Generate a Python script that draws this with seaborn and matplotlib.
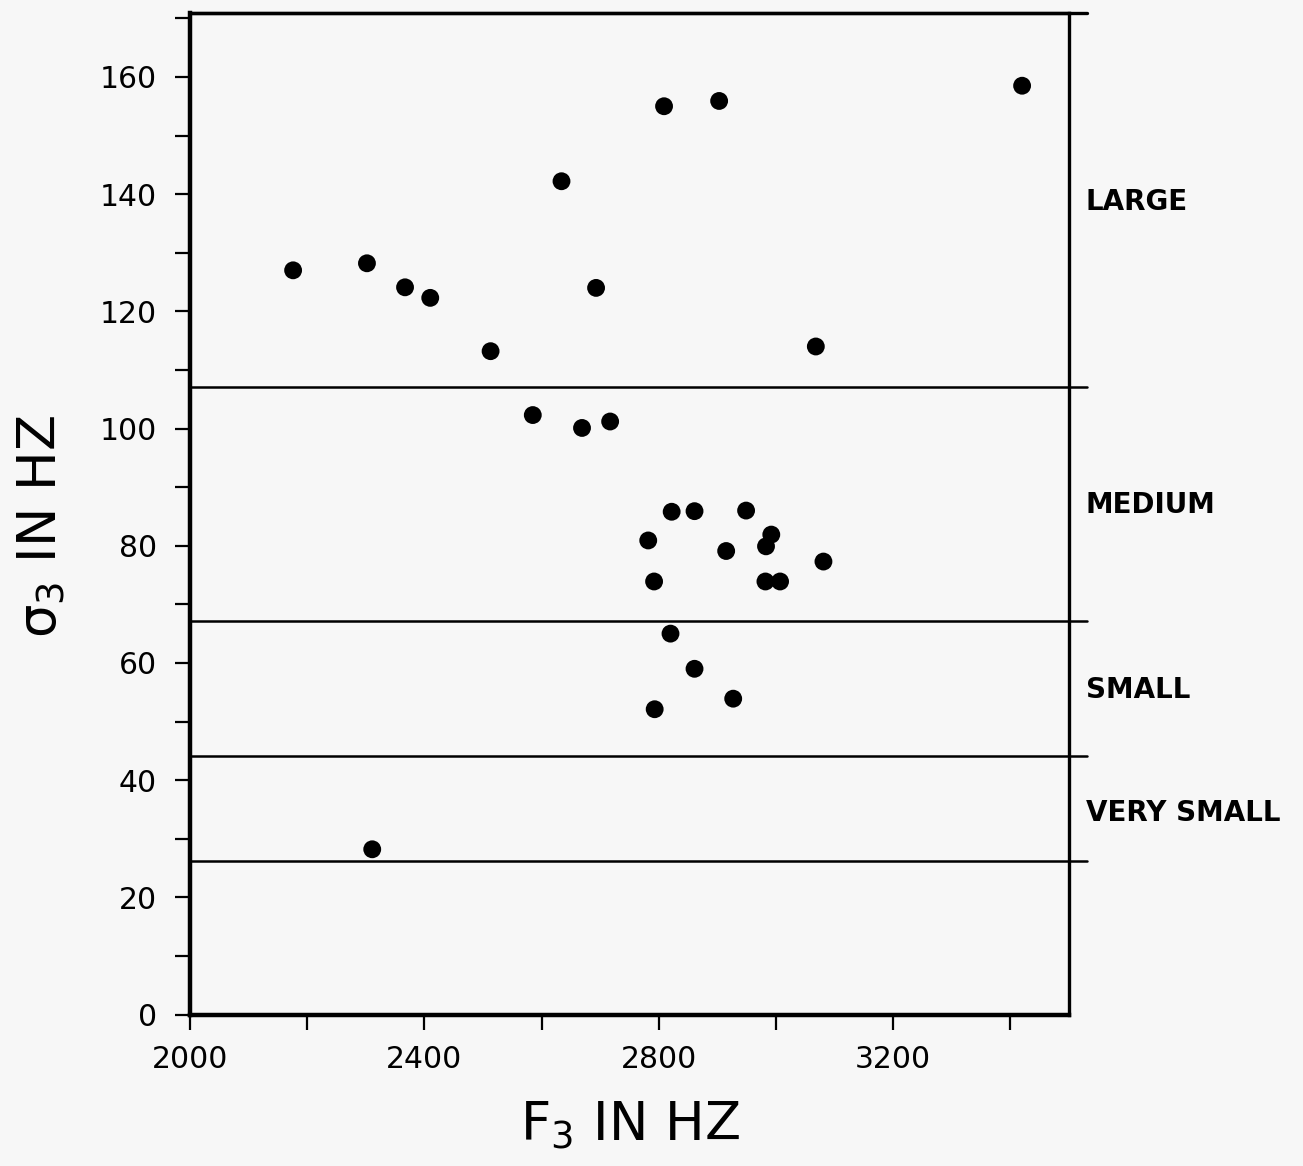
"""
F3 vs sigma3 scatter with bandwidth classes (scanned figure remake)
"""

import numpy as np
import pandas as pd
import matplotlib
matplotlib.use("Agg")
import matplotlib.pyplot as plt
import seaborn as sns

# points
f3_hz = [2176, 2302, 2367, 2410, 2513, 2585, 2634, 2669, 2693, 2717,
         2809, 2903, 3420, 3068, 2782, 2792, 2822, 2861, 2949, 2915,
         2983, 2992, 2982, 3007, 3081, 2820, 2861, 2927, 2793, 2311]
sigma3_hz = [127.0, 128.2, 124.1, 122.3, 113.2, 102.3, 142.2, 100.1, 124.0, 101.2,
             155.0, 155.9, 158.5, 114.0, 80.9, 73.9, 85.8, 85.9, 86.0, 79.1,
             79.9, 81.9, 73.9, 73.9, 77.3, 65.0, 59.0, 53.9, 52.1, 28.2]

# class boundaries and names
boundaries = [107.1, 67.2, 44.2, 26.2]
class_names = ['LARGE', 'MEDIUM', 'SMALL', 'VERY SMALL']
class_label_y = [138.7, 86.9, 55.4, 34.4]

x_major = [2000, 2400, 2800, 3200]
x_minor = [2200, 2600, 3000, 3400]
y_major = list(range(0, 161, 20))
y_minor = list(range(10, 171, 20))

df = pd.DataFrame({'f3': f3_hz, 'sigma3': sigma3_hz})

sns.set_style('ticks')
plt.rcParams['font.family'] = ['DejaVu Sans']
plt.rcParams['mathtext.fontset'] = 'dejavusans'
for key in ['text.color', 'axes.labelcolor', 'xtick.color', 'ytick.color',
            'xtick.labelcolor', 'ytick.labelcolor']:
    plt.rcParams[key] = 'black'

bg = '#f7f7f7'
fig = plt.figure(figsize=(13.03, 11.66), dpi=100, facecolor=bg)
ax = fig.add_axes([0.1458, 0.1299, 0.6746, 0.8589])
ax.set_facecolor(bg)

sns.scatterplot(data=df, x='f3', y='sigma3', ax=ax, s=165,
                color='black', edgecolor='none', legend=False, zorder=3)

x_lo, x_hi = 2000, 3500
y_lo, y_hi = 0, 170.9
line_end = 3531  # lines run a little past the right frame

for b in boundaries:
    ax.plot([x_lo, line_end], [b, b], color='black', lw=1.8, clip_on=False)
ax.plot([x_lo, line_end], [y_hi, y_hi], color='black', lw=2.4, clip_on=False)

for name, yy in zip(class_names, class_label_y):
    ax.text(line_end - 2, yy, name, fontsize=20, fontweight='bold',
            ha='left', va='center', color='black')

ax.set_xlim(x_lo, x_hi)
ax.set_ylim(y_lo, y_hi)
ax.set_xticks(x_major)
ax.set_xticks(x_minor, minor=True)
ax.set_yticks(y_major)
ax.set_yticks(y_minor, minor=True)

ax.tick_params(which='both', direction='out', length=11, width=1.6,
               color='black', labelsize=21.5)
ax.tick_params(axis='x', pad=11)
ax.tick_params(axis='y', pad=13)

for side, lw in [('left', 3.2), ('bottom', 3.2), ('top', 2.4), ('right', 2.4)]:
    ax.spines[side].set_visible(True)
    ax.spines[side].set_linewidth(lw)
    ax.spines[side].set_color('black')

ax.set_xlabel('F$_3$ IN HZ', fontsize=38)
ax.set_ylabel('σ$_3$ IN HZ', fontsize=38)
ax.xaxis.set_label_coords(0.5, -0.085)
ax.yaxis.set_label_coords(-0.139, 0.487)

plt.savefig('out.png', dpi=100, facecolor=bg)
plt.close()
